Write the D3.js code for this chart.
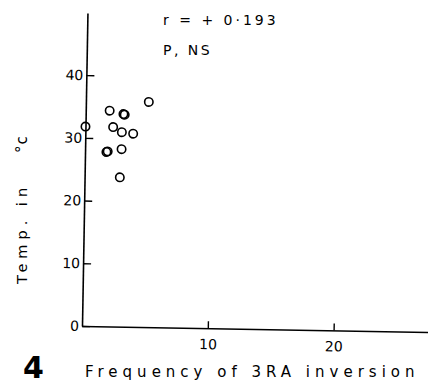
<!DOCTYPE html>
<html><head><meta charset="utf-8">
<script src="https://cdn.jsdelivr.net/npm/d3@7"></script>
<style>body{margin:0;background:#fff}svg{display:block}text{font-family:"DejaVu Sans",sans-serif;fill:#000}</style>
</head><body>
<svg id="c" width="428" height="387"></svg>
<script>
const freq = [0.0, 1.9, 3.0, 3.1, 5.0, 2.2, 2.9, 3.8, 1.8, 1.7, 2.9, 2.8];
const temp = [31.8, 34.4, 33.9, 33.8, 35.9, 31.8, 31.0, 30.8, 27.9, 27.8, 28.3, 23.8];
const xTicks = [10, 20];
const yTicks = [0, 10, 20, 30, 40];
const annot = ["r = + 0\u00b7193", "P, NS"];

const svg = d3.select("#c");
const ox = 82, oy = 326;
const x = d3.scaleLinear().domain([0, 27.5]).range([ox, 428]);
const y = d3.scaleLinear().domain([0, 49.9]).range([oy, 13]);

const g = svg.append("g").attr("transform", `rotate(1, ${ox}, ${oy})`);

const ya = g.append("g").attr("transform", `translate(${ox},0)`)
  .call(d3.axisLeft(y).tickValues(yTicks).tickSizeInner(-8).tickSizeOuter(0).tickPadding(3).tickFormat(d3.format("d")));
const xa = g.append("g").attr("transform", `translate(0,${oy})`)
  .call(d3.axisBottom(x).tickValues(xTicks).tickSizeInner(-7).tickSizeOuter(0).tickPadding(11).tickFormat(d3.format("d")));
[ya, xa].forEach(a => {
  a.select(".domain").attr("stroke", "#000").attr("stroke-width", 1.6);
  a.selectAll(".tick line").attr("stroke", "#000").attr("stroke-width", 1.4);
  a.selectAll("text").attr("font-size", 14).attr("fill", "#000").style("font-family", "DejaVu Sans");
});

g.selectAll("circle.pt").data(freq).join("circle").attr("class", "pt")
  .attr("cx", (d, i) => x(d)).attr("cy", (d, i) => y(temp[i])).attr("r", 4.2)
  .attr("fill", "none").attr("stroke", "#000").attr("stroke-width", 1.6);

svg.selectAll("text.ann").data(annot).join("text").attr("class", "ann")
  .attr("x", 163).attr("y", (d, i) => 25 + i * 30).attr("font-size", 14)
  .attr("letter-spacing", (d, i) => i ? 2.5 : 3).text(d => d);

svg.append("text").attr("transform", "translate(27,284) rotate(-90)")
  .attr("font-size", 14.5).attr("letter-spacing", 5).text("Temp. in");
svg.append("text").attr("transform", "translate(27,153) rotate(-90)")
  .attr("font-size", 15).attr("letter-spacing", 1).text("\u00b0c");

svg.append("text").attr("x", 85).attr("y", 377).attr("font-size", 15).attr("letter-spacing", 5)
  .text("Frequency of 3RA inversion");
svg.append("text").attr("x", 23).attr("y", 378).attr("font-size", 30).attr("font-weight", "bold").text("4");
</script>
</body></html>
